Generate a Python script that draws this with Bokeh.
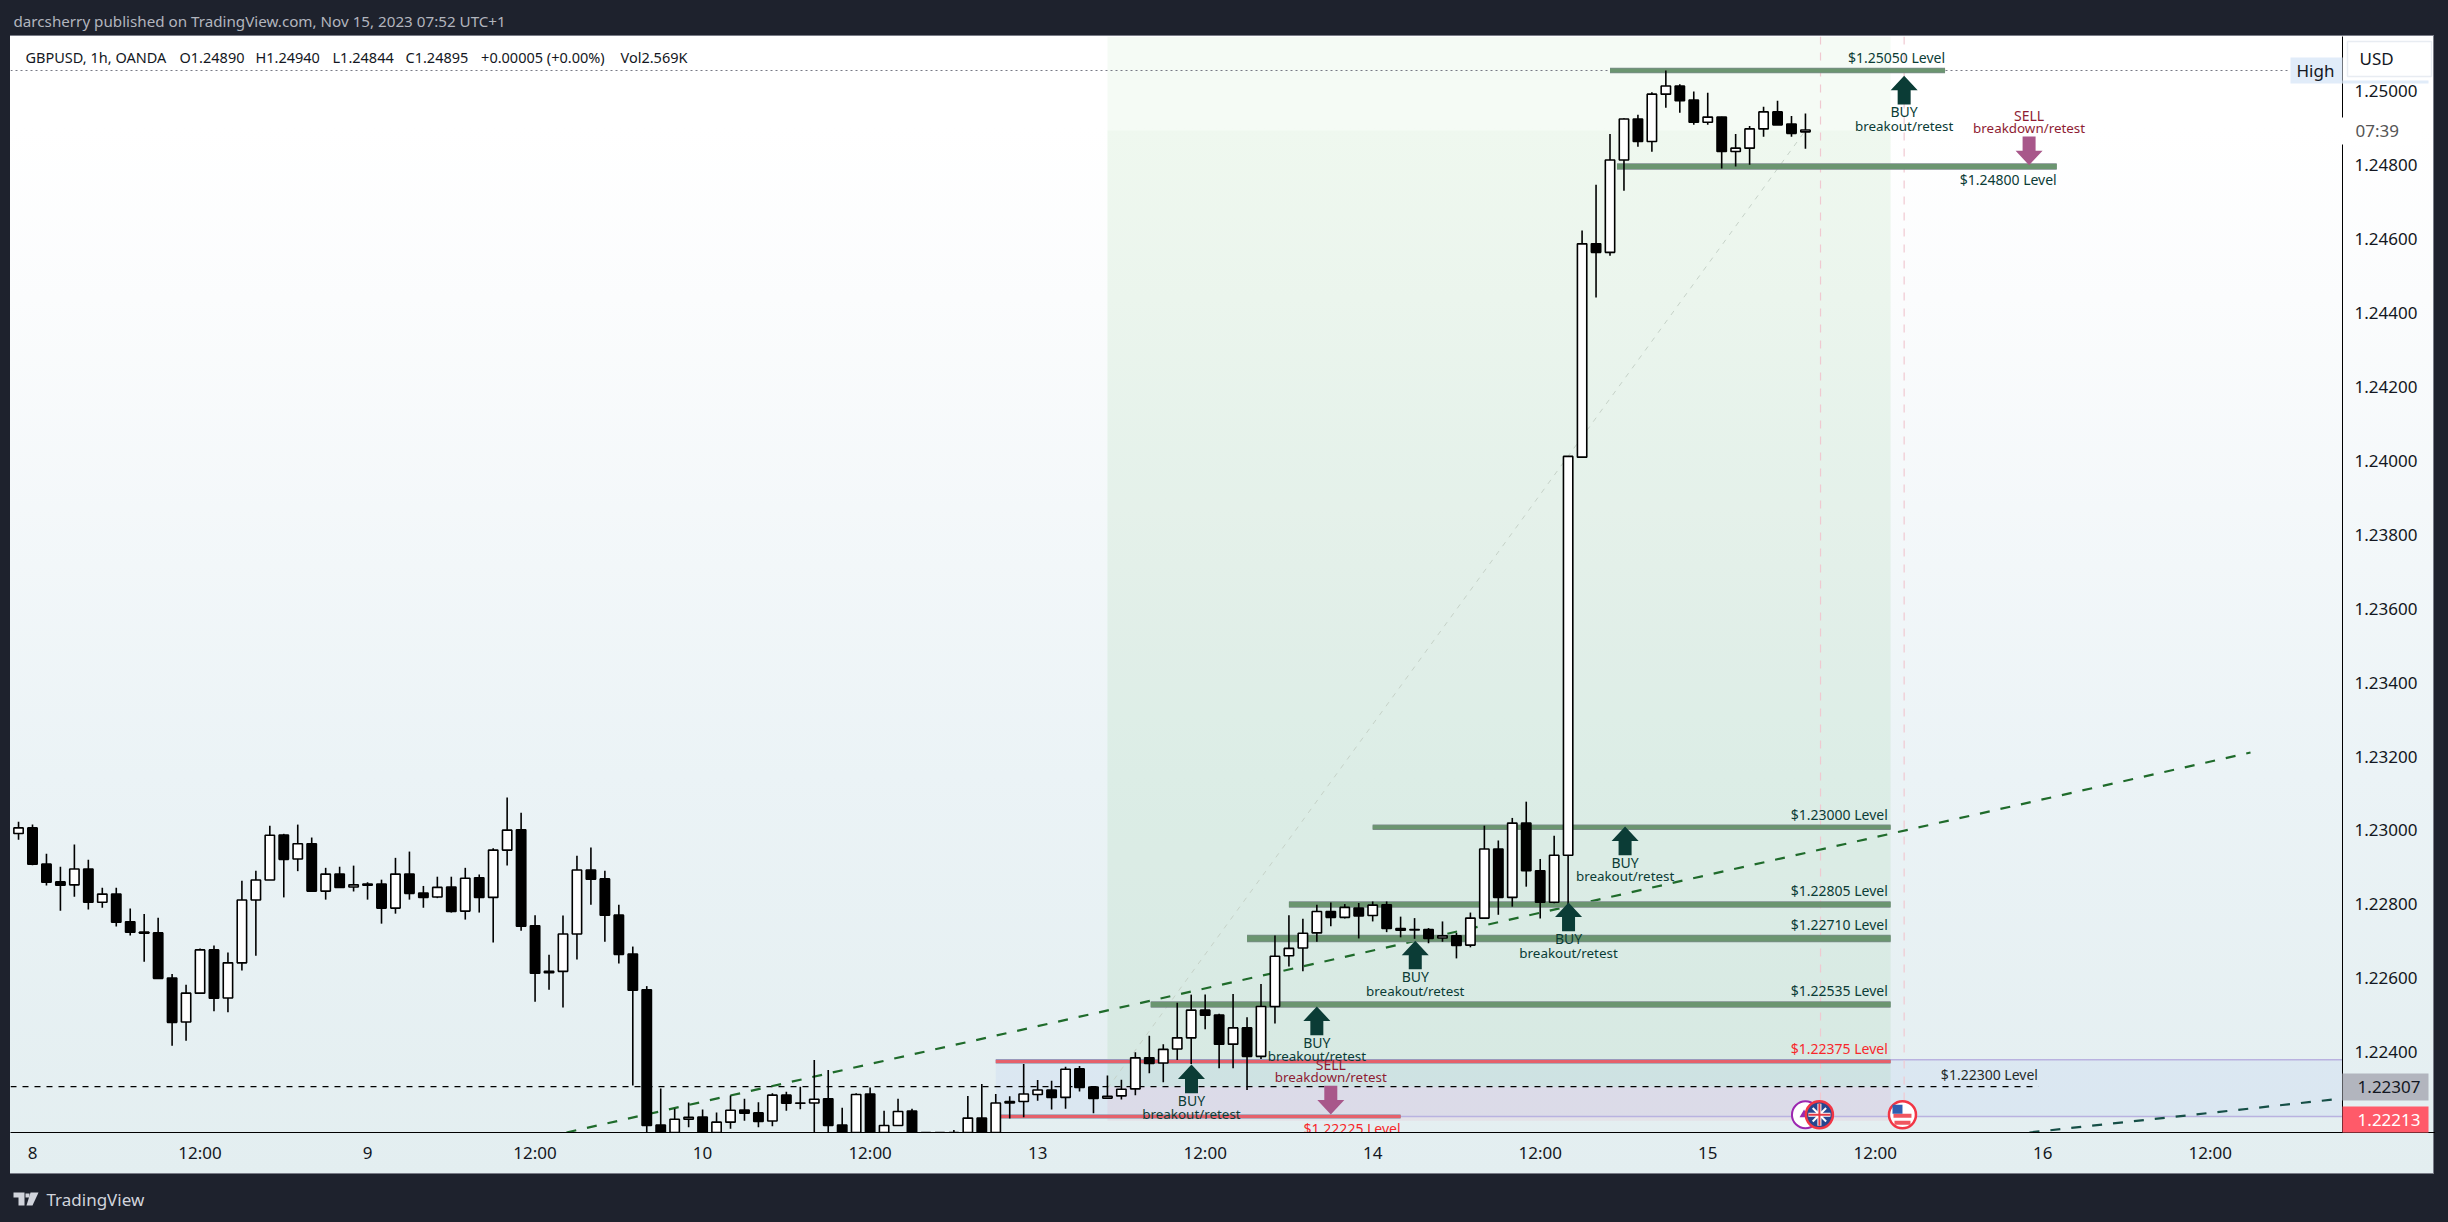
from bokeh.plotting import figure
from bokeh.embed import file_html
from bokeh.resources import INLINE
from bokeh.core.properties import value
from bokeh.models import Range1d, FixedTicker, NumeralTickFormatter

# ---------- candles: bar number in hours since Nov 8 00:00 (weekend removed) ----------
bar_index = list(range(-1, 128))
open_ = [1.22992,1.23007,1.22909,1.22861,1.22853,1.22896,1.22806,1.22828,1.22753,1.22725,1.22723,1.22601,1.22482,1.22560,1.22677,1.22547,1.22642,1.22812,1.22866,1.22988,1.22923,1.22964,1.22836,1.22882,1.22847,
 1.22855,1.22855,1.22790,1.22882,1.22831,1.22820,1.22847,1.22782,1.22872,1.22819,1.22947,1.23002,1.22742,1.22615,1.22619,1.22720,1.22893,1.22869,1.22771,1.22666,1.22569,1.22203,1.22165,1.22219,
 1.22225,1.22170,1.22211,1.22244,1.22236,1.22214,1.22284,1.22263,1.22263,1.22274,1.22203,1.22170,1.22287,1.22170,1.22202,1.22241,1.22170,1.22140,1.22150,1.22160,1.22222,1.22165,1.22263,1.22267,
 1.22286,1.22298,1.22278,1.22355,1.22306,1.22276,1.22282,1.22301,1.22385,1.22371,1.22409,1.22439,1.22514,1.22501,1.22422,1.22466,1.22389,1.22524,1.22661,1.22682,1.22723,1.22781,1.22765,1.22790,
 1.22770,1.22799,1.22735,1.22732,1.22732,1.22709,1.22715,1.22690,1.22763,1.22950,1.22819,1.23020,1.22891,1.22806,1.22933,1.24010,1.24587,1.24564,1.24814,1.24925,1.24864,1.24992,1.25014,1.24976,
 1.24916,1.24930,1.24837,1.24846,1.24898,1.24944,1.24911,1.24890]
close = [1.23007,1.22909,1.22860,1.22852,1.22896,1.22806,1.22828,1.22752,1.22725,1.22722,1.22600,1.22481,1.22560,1.22677,1.22546,1.22642,1.22812,1.22866,1.22987,1.22922,1.22964,1.22836,1.22882,1.22846,1.22853,
 1.22852,1.22790,1.22882,1.22830,1.22819,1.22846,1.22781,1.22871,1.22819,1.22947,1.23001,1.22741,1.22614,1.22619,1.22720,1.22893,1.22868,1.22771,1.22665,1.22568,1.22202,1.22150,1.22219,1.22224,
 1.22170,1.22211,1.22243,1.22235,1.22213,1.22284,1.22262,1.22262,1.22273,1.22202,1.22170,1.22286,1.22170,1.22202,1.22240,1.22170,1.22150,1.22160,1.22170,1.22222,1.22165,1.22263,1.22267,1.22287,
 1.22298,1.22278,1.22354,1.22305,1.22275,1.22281,1.22300,1.22385,1.22370,1.22408,1.22439,1.22514,1.22500,1.22422,1.22466,1.22389,1.22524,1.22660,1.22681,1.22722,1.22781,1.22765,1.22792,1.22769,
 1.22798,1.22735,1.22730,1.22731,1.22708,1.22715,1.22689,1.22763,1.22950,1.22819,1.23020,1.22891,1.22806,1.22933,1.24012,1.24587,1.24564,1.24814,1.24925,1.24864,1.24992,1.25014,1.24974,1.24916,
 1.24930,1.24837,1.24846,1.24898,1.24944,1.24909,1.24886,1.24895]
high = [1.23024,1.23016,1.22937,1.22902,1.22962,1.22921,1.22845,1.22845,1.22789,1.22774,1.22764,1.22612,1.22583,1.22681,1.22689,1.22670,1.22864,1.22891,1.23013,1.22991,1.23016,1.22981,1.22899,1.22902,1.22905,
 1.22860,1.22867,1.22926,1.22943,1.22850,1.22875,1.22875,1.22899,1.22881,1.22952,1.23089,1.23048,1.22771,1.22664,1.22770,1.22932,1.22954,1.22891,1.22799,1.22686,1.22579,1.22302,1.22247,1.22264,
 1.22245,1.22237,1.22283,1.22274,1.22265,1.22289,1.22293,1.22307,1.22379,1.22352,1.22250,1.22289,1.22305,1.22242,1.22274,1.22247,1.22178,1.22170,1.22190,1.22282,1.22314,1.22287,1.22281,1.22368,
 1.22325,1.22323,1.22361,1.22363,1.22307,1.22337,1.22326,1.22400,1.22445,1.22422,1.22534,1.22556,1.22556,1.22504,1.22558,1.22495,1.22585,1.22716,1.22771,1.22761,1.22799,1.22805,1.22801,1.22804,
 1.22808,1.22808,1.22767,1.22763,1.22736,1.22754,1.22723,1.22778,1.23013,1.22973,1.23034,1.23078,1.22923,1.22986,1.24012,1.24623,1.24747,1.24884,1.24927,1.24936,1.24997,1.25056,1.25019,1.24999,
 1.24996,1.24931,1.24884,1.24906,1.24958,1.24974,1.24933,1.24940]
low = [1.22975,1.22906,1.22851,1.22783,1.22821,1.22786,1.22791,1.22740,1.22716,1.22645,1.22599,1.22418,1.22431,1.22560,1.22511,1.22508,1.22621,1.22661,1.22866,1.22819,1.22890,1.22835,1.22813,1.22845,1.22835,
 1.22813,1.22748,1.22775,1.22813,1.22791,1.22817,1.22778,1.22759,1.22778,1.22697,1.22905,1.22729,1.22537,1.22569,1.22521,1.22651,1.22799,1.22699,1.22640,1.22310,1.22178,1.22120,1.22140,1.22197,
 1.22150,1.22150,1.22193,1.22215,1.22197,1.22200,1.22242,1.22246,1.22178,1.22178,1.22150,1.22150,1.22150,1.22150,1.22202,1.22160,1.22130,1.22120,1.22130,1.22140,1.22150,1.22150,1.22221,1.22224,
 1.22269,1.22245,1.22247,1.22294,1.22235,1.22274,1.22272,1.22284,1.22343,1.22319,1.22379,1.22368,1.22462,1.22357,1.22357,1.22298,1.22382,1.22478,1.22632,1.22619,1.22699,1.22741,1.22762,1.22708,
 1.22754,1.22725,1.22711,1.22707,1.22695,1.22699,1.22654,1.22684,1.22763,1.22772,1.22794,1.22848,1.22762,1.22803,1.22801,1.24010,1.24442,1.24555,1.24731,1.24850,1.24836,1.24955,1.24942,1.24909,
 1.24909,1.24791,1.24796,1.24801,1.24877,1.24909,1.24877,1.24844]

# ---------- axes ----------
price_ticks = [1.224,1.226,1.228,1.23,1.232,1.234,1.236,1.238,1.24,1.242,1.244,1.246,1.248,1.25]
time_ticks = [0,12,24,36,48,60,72,84,96,108,120,132,144,156]
time_labels = ["8","12:00","9","12:00","10","12:00","13","12:00","14","12:00","15","12:00","16","12:00"]
x_start, x_end = -1.576, 165.47
y_bottom, y_top = 1.22183, 1.25148

# ---------- drawn levels ----------
green_prices = [1.25056,1.24796,1.23009,1.22800,1.22708,1.22529]
green_from   = [113.0,113.5,96.0,90.0,87.0,80.1]
green_to     = [137.0,145.0,133.1,133.1,133.1,133.1]
green_width  = [4,5,4,5,6,5]
red_prices = [1.22375,1.22226]
red_from   = [69.0,69.3]
red_to     = [133.1,98.0]
purple_prices = [1.22380,1.22226]

level_texts = ["$1.25050 Level","$1.24800 Level","$1.23000 Level","$1.22805 Level","$1.22710 Level","$1.22535 Level"]
level_text_k = [137.0,145.0,132.9,132.9,132.9,132.9]
level_text_off = [-13,13,-13,-14,-14,-14]
red_texts = ["$1.22375 Level","$1.22225 Level"]
red_text_k = [132.9,98.0]
red_text_off = [-13,12]

buy_k = [83.02,92.0,99.05,110.03,114.08,134.07]
buy_price = [1.22367,1.22524,1.22702,1.22805,1.23011,1.25042]
sell_k = [93.0,143.02]
sell_price = [1.22232,1.24800]

p = figure(width=2448, height=1222, output_backend="svg", toolbar_location=None,
           x_range=Range1d(x_start, x_end), y_range=Range1d(y_bottom, y_top),
           y_axis_location="right", min_border_left=10, min_border_right=106,
           min_border_top=36, min_border_bottom=90,
           border_fill_color=None, background_fill_color=None, outline_line_color=None)
p.grid.visible = False

DARK = "#1e222d"
def line_layer(col, x, y, w, h):
    return f"linear-gradient({col},{col}) {x}px {y}px/{w}px {h}px no-repeat"
p.stylesheets = [":host{background:" + ",".join([
    line_layer("#000000", 2342, 1132, 93, 1),
    line_layer("#787b86", 10, 35, 2424, 1),
    line_layer("#787b86", 10, 1173, 2424, 1),
    line_layer("#787b86", 2433, 36, 1, 1138),
    "linear-gradient(#ffffff 0%,#ffffff 8%,#fbfcfd 23%,#ebf3f6 65%,#e3eef0 100%) 10px 36px/2424px 1138px no-repeat",
    DARK]) + ";}"]

FONT = "Noto Sans"
for ax in (p.xaxis[0], p.yaxis[0]):
    ax.axis_line_color = "#000000"
    ax.axis_line_width = 1
    ax.major_tick_line_color = None
    ax.minor_tick_line_color = None
    ax.major_tick_out = 0
    ax.major_tick_in = 0
    ax.minor_tick_out = 0
    ax.minor_tick_in = 0
    ax.major_label_text_font = FONT
    ax.major_label_text_font_size = "17px"
    ax.major_label_text_color = "#131722"
p.yaxis[0].major_label_standoff = 12
p.xaxis[0].major_label_standoff = 8
p.yaxis[0].ticker = FixedTicker(ticks=price_ticks)
p.yaxis[0].formatter = NumeralTickFormatter(format="0.00000")
p.xaxis[0].ticker = FixedTicker(ticks=time_ticks)
p.xaxis[0].major_label_overrides = dict(zip(time_ticks, time_labels))

# ---------- shaded boxes ----------
box_left, box_right = 77.0, 133.1
p.quad(left=[69.0], right=[x_end], top=[purple_prices[0]], bottom=[purple_prices[1]],
       fill_color="#2962ff", fill_alpha=0.05, line_color=None)
p.quad(left=[box_left], right=[box_right], top=[y_top], bottom=[1.24894],
       fill_color="#4caf50", fill_alpha=0.055, line_color=None)
p.quad(left=[box_left], right=[box_right], top=[1.24894], bottom=[1.22307],
       fill_color="#4caf50", fill_alpha=0.09, line_color=None)
p.quad(left=[box_left], right=[box_right], top=[1.22307], bottom=[1.22215],
       fill_color="#e91e63", fill_alpha=0.06, line_color=None)

for pr in purple_prices:
    p.segment(x0=[69.0], x1=[x_end], y0=[pr], y1=[pr], line_color="#b9b2e0", line_width=1.5)

# vertical event lines
for k in (128.08, 134.07):
    p.segment(x0=[k], x1=[k], y0=[y_top], y1=[1.2227], line_color="#f0c8d0", line_width=1.2, line_dash="8 8")

# dotted high line, dashed 1.22300 line
p.segment(x0=[x_start], x1=[161.7], y0=[1.25056], y1=[1.25056], line_color="#787b86", line_width=1, line_dash="2 3")
p.segment(x0=[x_start], x1=[143.7], y0=[1.22307], y1=[1.22307], line_color="#000000", line_width=1.2, line_dash="6 6")

# trend lines
p.line([38.25,158.88],[1.22183,1.23211], line_color="#1f6b2b", line_width=2.2, line_dash="10 11")
p.line([143.05,x_end],[1.22183,1.22275], line_color="#164f47", line_width=2.2, line_dash="10 11")
p.line([77.0,127.0],[1.22302,1.24894], line_color="#c6d2c8", line_width=1, line_dash="5 6")

# level bars
for pr,a,b,w in zip(green_prices, green_from, green_to, green_width):
    p.segment(x0=[a], x1=[b], y0=[pr], y1=[pr], line_color="#7c8a8c", line_width=w+1.5)
    p.segment(x0=[a], x1=[b], y0=[pr], y1=[pr], line_color="#6b9570", line_width=w)
for pr,a,b in zip(red_prices, red_from, red_to):
    p.segment(x0=[a], x1=[b], y0=[pr], y1=[pr], line_color="#7c7f95", line_width=4)
    p.segment(x0=[a], x1=[b], y0=[pr], y1=[pr], line_color="#e5606b", line_width=3)

# ---------- candles ----------
up = [c >= o for o, c in zip(open_, close)]
p.segment(x0=bar_index, x1=bar_index, y0=low, y1=high, line_color="#000000", line_width=1.6)
p.vbar(x=bar_index, width=0.67, top=[max(o,c) for o,c in zip(open_,close)],
       bottom=[min(o,c) for o,c in zip(open_,close)],
       fill_color=["#ffffff" if u else "#000000" for u in up], line_color="#000000", line_width=1.6)

# ---------- arrows ----------
PX_K = 1/13.96
PX_P = 1/36960
def arrow(k, pr, sign):
    h1, h2, hw, sw = 14.5, 28.7, 13.5, 6.5
    xs = [k, k+hw*PX_K, k+sw*PX_K, k+sw*PX_K, k-sw*PX_K, k-sw*PX_K, k-hw*PX_K]
    ys = [pr, pr-sign*h1*PX_P, pr-sign*h1*PX_P, pr-sign*h2*PX_P, pr-sign*h2*PX_P, pr-sign*h1*PX_P, pr-sign*h1*PX_P]
    return xs, ys
BUY_COL, SELL_COL, SELL_TXT = "#0b3c36", "#a8578a", "#8e1c33"
bx, by = zip(*[arrow(k, pr, 1) for k, pr in zip(buy_k, buy_price)])
p.patches(list(bx), list(by), fill_color=BUY_COL, line_color=None)
sx, sy = zip(*[arrow(k, pr, -1) for k, pr in zip(sell_k, sell_price)])
p.patches(list(sx), list(sy), fill_color=SELL_COL, line_color=None)

def txt(xs, ys, ts, col, off, align="center", size="14px"):
    p.text(x=xs, y=ys, text=ts, text_color=col, text_font=value(FONT), text_font_size=size,
           text_align=align, text_baseline="middle", y_offset=off)

txt(buy_k, buy_price, ["BUY"]*len(buy_k), BUY_COL, 36)
txt(buy_k, buy_price, ["breakout/retest"]*len(buy_k), BUY_COL, 50, size="13.4px")
txt(sell_k, sell_price, ["SELL"]*len(sell_k), SELL_TXT, -50)
txt(sell_k, sell_price, ["breakdown/retest"]*len(sell_k), SELL_TXT, -37, size="13.4px")

for t,k,pr,off in zip(level_texts, level_text_k, green_prices, level_text_off):
    txt([k],[pr],[t],BUY_COL,off,"right")
for t,k,pr,off in zip(red_texts, red_text_k, red_prices, red_text_off):
    txt([k],[pr],[t],"#f7282b",off,"right")
txt([143.65],[1.22307],["$1.22300 Level"],"#1f2a2a",-12,"right")

# ---------- event icons ----------
icon_p = 1.22231
p.scatter([127.0],[icon_p], size=27, fill_color="#ffffff", line_color="#9c27b0", line_width=2)
p.scatter([126.9],[icon_p], marker="triangle", size=9, fill_color="#9c27b0", line_color=None)
p.scatter([128.0],[icon_p], size=27, fill_color="#27468f", line_color="#f23645", line_width=2.5)
p.scatter([128.0],[icon_p], marker="x", size=19, line_color="#ffffff", line_width=2, fill_color=None)
p.scatter([128.0],[icon_p], marker="cross", size=22, line_color="#ffffff", line_width=4, fill_color=None)
p.scatter([128.0],[icon_p], marker="cross", size=22, line_color="#e53945", line_width=2, fill_color=None)
us_k = 133.95
p.scatter([us_k],[icon_p], size=27, fill_color="#ffffff", line_color="#f23645", line_width=2.5)
p.quad(left=[us_k-9*PX_K], right=[us_k+9*PX_K], top=[icon_p+1*PX_P], bottom=[icon_p-3*PX_P], fill_color="#f0565f", line_color=None)
p.quad(left=[us_k-8*PX_K], right=[us_k+8*PX_K], top=[icon_p-6*PX_P], bottom=[icon_p-10*PX_P], fill_color="#f0565f", line_color=None)
p.quad(left=[us_k-10*PX_K], right=[us_k], top=[icon_p+10*PX_P], bottom=[icon_p+1*PX_P], fill_color="#2f5fb0", line_color=None)

# ---------- page furniture, on a transparent overlay figure measured in page pixels ----------
q = figure(width=2448, height=1222, output_backend="svg", toolbar_location=None,
           x_range=Range1d(0, 2448), y_range=Range1d(1222, 0),
           min_border=0, border_fill_color=None, background_fill_color=None, outline_line_color=None)
q.axis.visible = False
q.grid.visible = False
q.stylesheets = [":host{position:absolute!important;left:0;top:0;}"]

box_l = [2290, 2347, 2342, 2341, 2342, 2342]
box_r = [2342, 2431, 2428, 2420, 2428, 2428]
box_t = [57, 41, 80, 117, 1073, 1106]
box_b = [83, 76, 83, 144, 1100, 1132]
box_c = ["#e1ecf9", "#ffffff", "#e1ecf9", "#ffffff", "#b2b5be", "#ff5a69"]
box_line = [None, "#e8ecf2", None, None, None, None]
q.quad(left=box_l, right=box_r, top=box_t, bottom=box_b, fill_color=box_c, line_color=box_line, line_width=1.5)

def lab(text, x, y, size="17px", col="#131722", align="left"):
    q.text(x=[x], y=[y], text=[text], text_font=value(FONT), text_font_size=size, text_color=col,
           text_align=align, text_baseline="middle")

lab("darcsherry published on TradingView.com, Nov 15, 2023 07:52 UTC+1", 13, 20, "15.2px", "#b2b5be")
header_x = [25,179,255,332,405,480.6,620]
header_t = ["GBPUSD, 1h, OANDA","O1.24890","H1.24940","L1.24844","C1.24895","+0.00005 (+0.00%)","Vol2.569K"]
for x,t in zip(header_x, header_t):
    lab(t, x, 56, "14.5px", "#131722")

lab("High", 2296, 70)
lab("USD", 2359, 58)
lab("07:39", 2355, 130, col="#555555")
lab("1.22307", 2420, 1086, align="right")
lab("1.22213", 2420, 1119, col="#ffffff", align="right")
lab("TradingView", 46, 1199, col="#d1d4dc")

LOGO = "#d1d4dc"
logo_xs = [[13,24,24,18,18,13],[25,29,29,25],[30,38,32,26]]
logo_ys = [[1192,1192,1205,1205,1197,1197],[1193,1193,1197,1197],[1192,1192,1205,1205]]
q.patches(logo_xs, logo_ys, fill_color=LOGO, line_color=None)

open("out.html", "w").write(file_html([p, q], INLINE))
